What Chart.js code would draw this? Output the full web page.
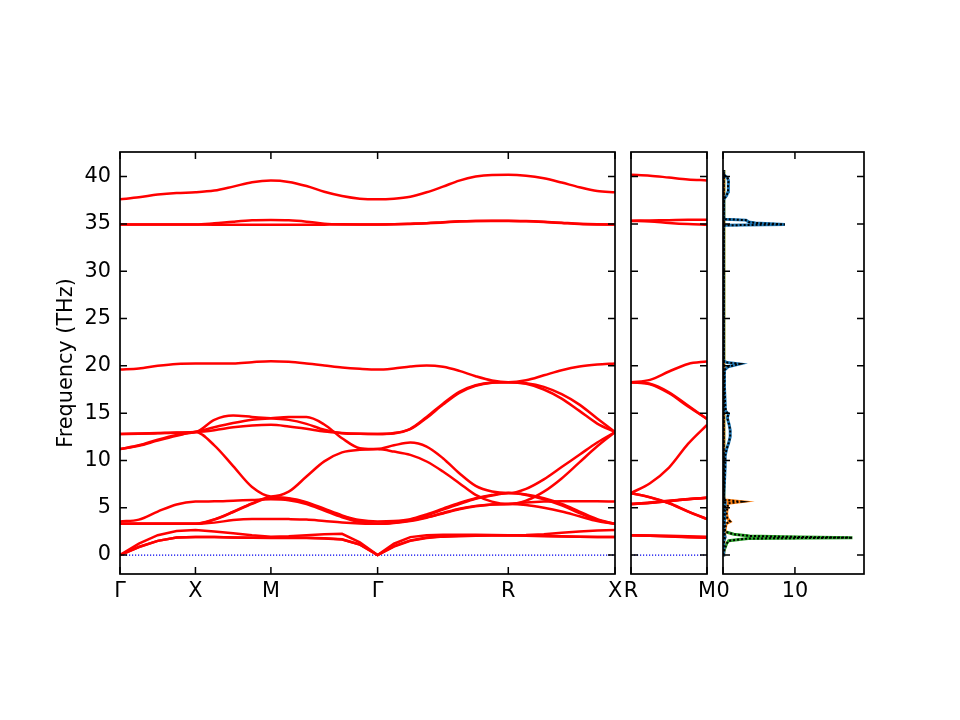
<!DOCTYPE html>
<html>
<head>
<meta charset="utf-8">
<title>Phonon band structure and DOS</title>
<script src="https://cdn.jsdelivr.net/npm/chart.js@4.4.1/dist/chart.umd.min.js"></script>
<style>
  html, body { margin: 0; padding: 0; background: #fff; }
  .wrap { position: relative; width: 960px; height: 720px; }
  .wrap canvas { position: absolute; left: 0; top: 0; }
</style>
</head>
<body>
<div class="wrap">
  <canvas id="bands" width="960" height="720"></canvas>
  <canvas id="bandsRM" width="960" height="720"></canvas>
  <canvas id="dos" width="960" height="720"></canvas>
</div>
<script>
/* path Γ-X-M-Γ-R-X, distance of each sample point */
const pathDist = [
  0, 0.125, 0.25, 0.375, 0.5,
  0.625, 0.75, 0.875, 1.0,
  1.1179, 1.2357, 1.3536, 1.4714, 1.5893, 1.7071,
  1.8154, 1.9236, 2.0319, 2.1401, 2.2484, 2.3566, 2.4649, 2.5731,
  2.6910, 2.8088, 2.9267, 3.0445, 3.1624, 3.2802
];
const symDist = [0, 0.5, 1.0, 1.7071, 2.5731, 3.2802];
const symLabels = ['Γ', 'X', 'M', 'Γ', 'R', 'X'];

/* second path R-M */
const rmDist = [0, 0.125, 0.25, 0.375, 0.5];
const rmSymDist = [0, 0.5];
const rmLabels = ['R', 'M'];

const freqTicks = [0, 5, 10, 15, 20, 25, 30, 35, 40];
const dosTicks = [0, 10];
const dosTickLabels = ['0', '10'];

/* frequencies (THz), one array per band, Γ-X | X-M | M-Γ | Γ-R | R-X */
const band01 = [0, 0.85, 1.5, 1.85, 1.92,  1.9, 1.85, 1.82, 1.8,  1.8, 1.8, 1.75, 1.65, 1.1, 0,
  0.9, 1.5, 1.8, 1.95, 2.0, 2.05, 2.08, 2.1,  2.05, 2.0, 1.96, 1.93, 1.92, 1.92];
const band02 = [0, 0.85, 1.5, 1.85, 1.92,  1.9, 1.86, 1.83, 1.82,  1.82, 1.82, 1.78, 1.68, 1.12, 0,
  0.95, 1.55, 1.85, 1.98, 2.03, 2.06, 2.09, 2.1,  2.08, 2.03, 1.98, 1.94, 1.92, 1.92];
const band03 = [0, 1.2, 2.1, 2.55, 2.65,  2.5, 2.3, 2.1, 1.95,  2.0, 2.1, 2.2, 2.25, 1.35, 0,
  1.2, 1.9, 2.1, 2.15, 2.15, 2.15, 2.12, 2.1,  2.12, 2.2, 2.35, 2.5, 2.6, 2.65];
const band04 = [3.3, 3.3, 3.3, 3.3, 3.3,  3.43, 3.7, 3.81, 3.81,  3.8, 3.75, 3.6, 3.45, 3.35, 3.3,
  3.4, 3.6, 3.95, 4.4, 4.85, 5.15, 5.35, 5.4,  5.3, 5.0, 4.6, 4.1, 3.6, 3.3];
const band05 = [3.3, 3.3, 3.3, 3.3, 3.3,  3.77, 4.58, 5.47, 6.1,  6.0, 5.6, 4.9, 4.2, 3.7, 3.55,
  3.6, 3.8, 4.3, 4.9, 5.5, 6.0, 6.35, 6.55,  6.4, 6.0, 5.4, 4.6, 3.8, 3.3];
const band06 = [3.55, 3.75, 4.6, 5.35, 5.65,  5.68, 5.75, 5.82, 5.89,  5.8, 5.4, 4.7, 4.0, 3.5, 3.3,
  3.42, 3.65, 4.0, 4.45, 4.9, 5.2, 5.35, 5.4,  5.55, 5.65, 5.7, 5.7, 5.68, 5.65];
const band07 = [3.3, 3.3, 3.3, 3.3, 3.3,  3.75, 4.55, 5.42, 6.05,  5.95, 5.5, 4.8, 4.1, 3.6, 3.3,
  3.45, 3.7, 4.2, 4.8, 5.4, 5.95, 6.3, 6.55,  6.35, 5.9, 5.25, 4.45, 3.7, 3.3];
const band08 = [11.2, 11.55, 12.1, 12.6, 13.0,  11.6, 9.4, 7.2, 6.2,  6.7, 8.3, 9.9, 10.85, 11.12, 11.2,
  11.6, 11.9, 11.47, 10.24, 8.65, 7.31, 6.71, 6.55,  7.0, 8.0, 9.3, 10.6, 11.9, 13.0];
const band09 = [11.2, 11.6, 12.2, 12.7, 13.0,  13.5, 13.95, 14.3, 14.45,  14.58, 14.58, 13.8, 12.35, 11.3, 11.2,
  10.94, 10.59, 9.89, 8.83, 7.6, 6.36, 5.65, 5.4,  5.75, 6.7, 8.1, 9.8, 11.5, 13.0];
const band10 = [12.8, 12.82, 12.87, 12.93, 13.0,  14.3, 14.75, 14.6, 14.45,  14.29, 13.87, 13.24, 12.88, 12.81, 12.8,
  12.9, 13.35, 14.6, 16.0, 17.25, 17.95, 18.24, 18.27,  18.17, 17.78, 17.0, 15.9, 14.43, 13.0];
const band11 = [12.8, 12.84, 12.9, 12.95, 13.0,  13.2, 13.5, 13.7, 13.77,  13.6, 13.35, 13.05, 12.9, 12.82, 12.8,
  12.85, 13.3, 14.5, 15.9, 17.15, 17.9, 18.22, 18.27,  18.1, 17.5, 16.54, 15.24, 13.9, 13.0];
const band12 = [19.6, 19.72, 20.0, 20.2, 20.25,  20.25, 20.25, 20.39, 20.49,  20.42, 20.25, 20.04, 19.82, 19.68, 19.6,
  19.72, 19.93, 20.04, 19.9, 19.47, 18.9, 18.45, 18.27,  18.48, 19.0, 19.54, 19.93, 20.14, 20.25];
const band13 = [34.95, 34.95, 34.94, 34.93, 34.93,  34.92, 34.9, 34.9, 34.9,  34.9, 34.9, 34.92, 34.94, 34.95, 34.95,
  34.96, 35.0, 35.06, 35.15, 35.25, 35.3, 35.32, 35.32,  35.28, 35.2, 35.1, 35.0, 34.95, 34.93];
const band14 = [34.95, 34.95, 34.95, 34.94, 34.93,  35.06, 35.24, 35.38, 35.41,  35.38, 35.24, 35.03, 34.96, 34.95, 34.95,
  34.97, 35.02, 35.08, 35.18, 35.27, 35.32, 35.34, 35.34,  35.3, 35.22, 35.12, 35.02, 34.96, 34.93];
const band15 = [37.6, 37.81, 38.1, 38.27, 38.34,  38.52, 38.94, 39.4, 39.58,  39.44, 39.0, 38.4, 37.95, 37.67, 37.6,
  37.67, 37.88, 38.34, 38.94, 39.58, 40.0, 40.18, 40.2,  40.1, 39.82, 39.37, 38.87, 38.48, 38.34];

/* R-M panel */
const rm01 = [2.1, 2.03, 1.95, 1.88, 1.82];
const rm02 = [2.1, 2.05, 1.98, 1.92, 1.87];
const rm03 = [2.1, 2.08, 2.03, 1.98, 1.95];
const rm04 = [5.4, 5.55, 5.75, 5.92, 6.06];
const rm05 = [6.55, 6.12, 5.5, 4.62, 3.81];
const rm06 = [5.4, 5.5, 5.7, 5.9, 6.06];
const rm07 = [6.55, 6.1, 5.47, 4.6, 3.81];
const rm08 = [6.55, 7.6, 9.25, 11.75, 13.76];
const rm09 = [5.4, 5.52, 5.72, 5.9, 6.06];
const rm10 = [18.27, 18.1, 17.2, 15.8, 14.39];
const rm11 = [18.27, 18.05, 17.1, 15.7, 14.39];
const rm12 = [18.27, 18.52, 19.4, 20.2, 20.46];
const rm13 = [35.32, 35.25, 35.1, 34.98, 34.9];
const rm14 = [35.34, 35.37, 35.4, 35.43, 35.45];
const rm15 = [40.2, 40.1, 39.9, 39.7, 39.6];

/* partial DOS: frequency and density */
const pdos1Freq = [0, 1.5, 1.9, 2.4, 3.3, 5.6, 6.1, 9.3, 10.5, 11.2, 11.8, 12.5, 13.2, 13.8, 14.5,
  14.9, 15.2, 16.0, 17.8, 18.3, 19.55, 19.9, 20.2, 20.35, 20.5, 21.0, 34.7, 34.85, 34.95, 35.1,
  35.2, 35.4, 35.5, 35.6, 37.6, 38.0, 38.4, 39.0, 39.6, 39.9, 40.2, 40.4, 40.7];
const pdos1 = [0, 0.1, 0.3, 0.1, 0.2, 0.3, 0.1, 0.3, 0.3, 0.5, 0.77, 1.0, 1.0, 0.85, 0.6,
  0.75, 0.4, 0.3, 0.2, 0.2, 0.2, 0.7, 2.3, 0.6, 0.1, 0.05, 0.05, 0.3, 8.6, 4.5,
  3.6, 3.2, 0.3, 0.05, 0.1, 0.5, 0.7, 0.7, 0.8, 0.6, 0.1, 0.05, 0.05];
const pdos2Freq = [0, 1.0, 2.0, 2.5, 3.2, 3.35, 3.55, 3.9, 4.4, 5.0, 5.47, 5.64, 5.82, 6.2, 7.0, 40.7];
const pdos2 = [0, 0.1, 0.2, 0.25, 0.4, 0.5, 1.0, 0.6, 0.5, 0.6, 0.7, 2.55, 0.25, 0.1, 0.1, 0.1];
const pdos3Freq = [0, 0.7, 1.2, 1.52, 1.75, 1.84, 1.94, 2.02, 2.2, 2.47, 2.8, 3.5, 40.7];
const pdos3 = [0, 0.25, 0.5, 0.8, 3.5, 18.0, 8.4, 3.7, 1.5, 0.3, 0.12, 0.12, 0.12];

const mainBands = [band01, band02, band03, band04, band05, band06, band07, band08,
  band09, band10, band11, band12, band13, band14, band15];
const rmBands = [rm01, rm02, rm03, rm04, rm05, rm06, rm07, rm08,
  rm09, rm10, rm11, rm12, rm13, rm14, rm15];
const acousticCount = 3;   // first three bands: sharp cusp at Γ, no smoothing

const freqMin = -2.0;
const freqMax = 42.6;
const fontSize = 20.8;

Chart.defaults.font.family = "'DejaVu Sans', sans-serif";
Chart.defaults.font.size = fontSize;
Chart.defaults.color = '#000';

/* frame and inward tick marks, like matplotlib */
const frameTicks = {
  id: 'frameTicks',
  afterDatasetsDraw(chart) {
    const { ctx, chartArea: a } = chart;
    const sx = chart.scales.x, sy = chart.scales.y;
    const len = 7;
    ctx.save();
    ctx.strokeStyle = '#000';
    ctx.lineWidth = 1.5;
    ctx.beginPath();
    sx.ticks.forEach(function (t) {
      const px = sx.getPixelForValue(t.value);
      ctx.moveTo(px, a.bottom); ctx.lineTo(px, a.bottom - len);
      ctx.moveTo(px, a.top); ctx.lineTo(px, a.top + len);
    });
    sy.ticks.forEach(function (t) {
      const py = sy.getPixelForValue(t.value);
      ctx.moveTo(a.left, py); ctx.lineTo(a.left + len, py);
      ctx.moveTo(a.right, py); ctx.lineTo(a.right - len, py);
    });
    ctx.stroke();
    ctx.lineWidth = 1.7;
    ctx.strokeRect(a.left, a.top, a.right - a.left, a.bottom - a.top);
    ctx.restore();
  }
};

function xAxis(max, tickVals, tickText) {
  return {
    type: 'linear', min: 0, max: max,
    grid: { display: false, drawTicks: false },
    border: { display: false },
    afterBuildTicks: function (s) { s.ticks = tickVals.map(v => ({ value: v })); },
    afterFit: function (s) { s.height = 40; },
    ticks: {
      autoSkip: false, maxRotation: 0, padding: 5,
      callback: function (v, i) { return tickText[i]; }
    }
  };
}

function yAxis(withLabels) {
  return {
    type: 'linear', min: freqMin, max: freqMax,
    grid: { display: false, drawTicks: false },
    border: { display: false },
    afterBuildTicks: function (s) { s.ticks = freqTicks.map(v => ({ value: v })); },
    afterFit: function (s) { s.width = withLabels ? 75 : 0; },
    title: { display: withLabels, text: 'Frequency (THz)', padding: { top: 9, bottom: 0 } },
    ticks: { display: withLabels, padding: 9 }
  };
}

function bandSets(xs, bands) {
  const sets = bands.map(function (b, k) {
    const acoustic = k < acousticCount;
    return {
      data: b.map((f, i) => ({ x: xs[i], y: f })),
      borderColor: '#ff0000',
      borderWidth: 2.5,
      pointRadius: 0,
      cubicInterpolationMode: acoustic ? 'default' : 'monotone',
      tension: 0,
      order: 1
    };
  });
  sets.push({
    data: [{ x: xs[0], y: 0 }, { x: xs[xs.length - 1], y: 0 }],
    borderColor: '#0000ee',
    borderWidth: 1.2,
    borderDash: [1.2, 1.8],
    pointRadius: 0,
    order: 2
  });
  return sets;
}

function baseOptions(pad) {
  return {
    responsive: false,
    animation: false,
    devicePixelRatio: 1,
    layout: { padding: pad },
    plugins: { legend: { display: false }, tooltip: { enabled: false } }
  };
}

/* main band panel */
const mainOpts = baseOptions({ left: 45, right: 345, top: 152, bottom: 106 });
mainOpts.scales = { x: xAxis(3.2802, symDist, symLabels), y: yAxis(true) };
new Chart(document.getElementById('bands'), {
  type: 'line',
  data: { datasets: bandSets(pathDist, mainBands) },
  options: mainOpts,
  plugins: [frameTicks]
});

/* R-M panel */
const rmOpts = baseOptions({ left: 631, right: 253, top: 152, bottom: 106 });
rmOpts.scales = { x: xAxis(0.5, rmSymDist, rmLabels), y: yAxis(false) };
new Chart(document.getElementById('bandsRM'), {
  type: 'line',
  data: { datasets: bandSets(rmDist, rmBands) },
  options: rmOpts,
  plugins: [frameTicks]
});

/* DOS panel */
function dosSet(freqs, vals, color) {
  return [{
    data: freqs.map((f, i) => ({ x: vals[i], y: f })),
    showLine: true, borderColor: '#000', borderWidth: 2, borderDash: [2, 2],
    pointRadius: 0, order: 0
  }, {
    data: freqs.map((f, i) => ({ x: vals[i], y: f })),
    showLine: true, borderColor: color, borderWidth: 3,
    pointRadius: 0, order: 1
  }];
}
const dosOpts = baseOptions({ left: 723, right: 96, top: 152, bottom: 106 });
dosOpts.scales = { x: xAxis(19.6, dosTicks, dosTickLabels), y: yAxis(false) };
new Chart(document.getElementById('dos'), {
  type: 'scatter',
  data: {
    datasets: [].concat(
      dosSet(pdos1Freq, pdos1, '#1f77b4'),
      dosSet(pdos2Freq, pdos2, '#ff7f0e'),
      dosSet(pdos3Freq, pdos3, '#2ca02c')
    )
  },
  options: dosOpts,
  plugins: [frameTicks]
});
</script>
</body>
</html>
